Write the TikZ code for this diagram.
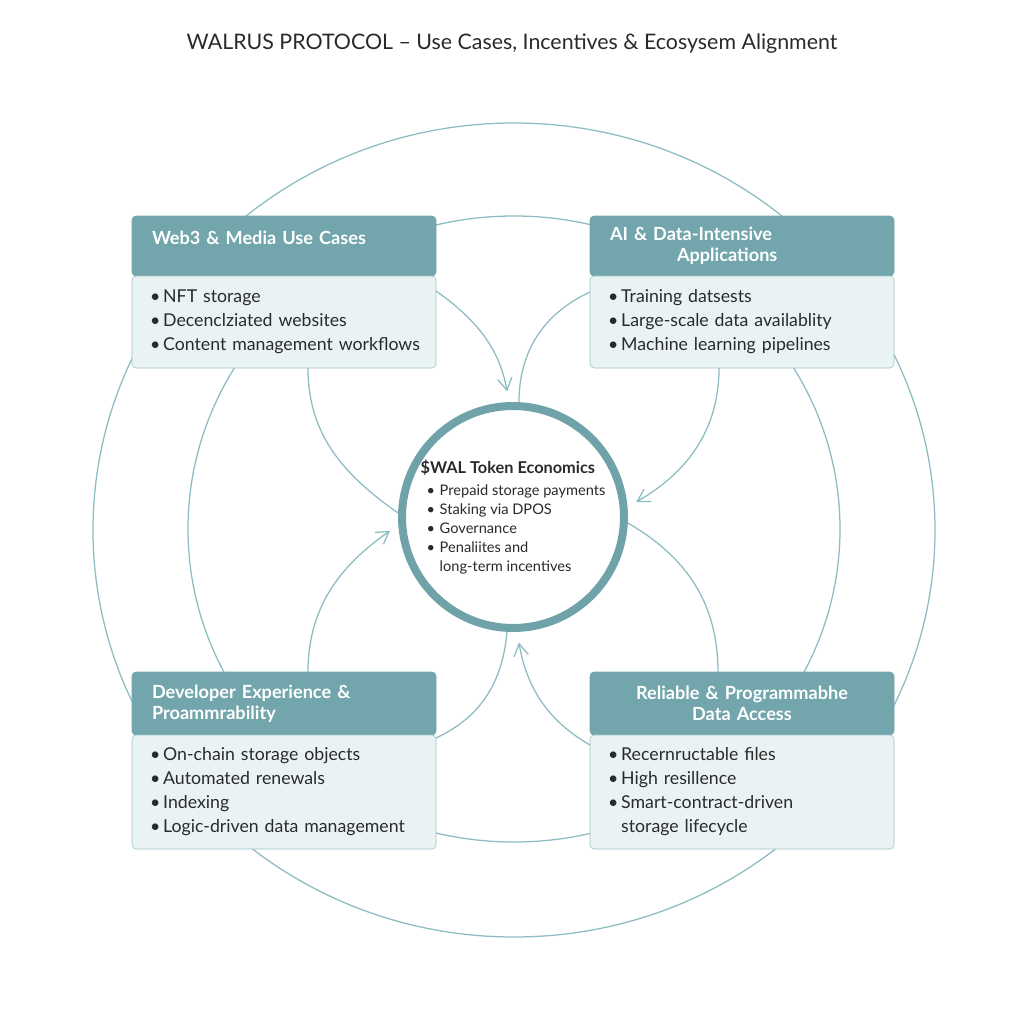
\documentclass[tikz,border=0pt]{standalone}
\usepackage{fontspec}
\setmainfont{Lato}
\usetikzlibrary{positioning,arrows.meta}

\definecolor{headfill}{HTML}{72A6AC}
\definecolor{bodyfill}{HTML}{EAF3F4}
\definecolor{boxline}{HTML}{9DC4C8}
\definecolor{linec}{HTML}{8DBDC3}
\definecolor{ringc}{HTML}{6FA3A9}
\definecolor{txt}{HTML}{2A2A2A}

\newcommand{\bitem}{\hspace*{0.15cm}\makebox[0.33cm][l]{\textbullet}}
\newcommand{\bskip}{\hspace*{0.48cm}}

\begin{document}
\begin{tikzpicture}[
    head/.style={rectangle, fill=headfill, draw=headfill, rounded corners=0.1cm, anchor=north west, minimum width=7.6cm, text width=6.6cm, inner xsep=0.5cm, inner ysep=0pt, outer sep=0pt, align=left, text=white, font=\fontsize{12.9}{14.9}\selectfont\bfseries},
    body/.style={rectangle, fill=bodyfill, draw=boxline, rounded corners=0.1cm, minimum width=7.6cm, text width=7.0cm, inner xsep=0.3cm, inner ysep=0pt, outer sep=0pt, align=left, text=txt, font=\fontsize{12.6}{17.1}\selectfont},
    ring/.style={circle, draw=ringc, line width=0.2cm, fill=white, minimum size=5.55cm, inner sep=0pt, align=left, text=txt, font=\fontsize{10.4}{13.5}\selectfont},
    title/.style={text=txt, font=\fontsize{15.2}{17}\selectfont},
    orbit/.style={line width=0.9pt, draw=linec},
    link/.style={line width=0.9pt, draw=linec},
    flow/.style={-{Straight Barb[length=0.3cm,width=0.36cm]}, line width=0.9pt, draw=linec}
]

\fill[white] (0,0) rectangle (25.6,-25.6);
\useasboundingbox (0,0) rectangle (25.6,-25.6);

\node[title] (title) at (12.8,-1.1) {WALRUS PROTOCOL – Use Cases, Incentives \& Ecosysem Alignment};

% background orbits
\draw[orbit] (12.85,-13.25) ellipse [x radius=10.525cm, y radius=10.175cm];
\draw[orbit] (12.85,-13.225) ellipse [x radius=8.15cm, y radius=7.825cm];

% centre
\node[ring] (token) at (12.825,-12.925) {{\fontsize{11.6}{13.5}\selectfont\bfseries \$WAL Token Economics}\\[2.5pt]
\bitem Prepaid storage payments\\
\bitem Staking via DPOS\\
\bitem Governance\\
\bitem Penaliites and\\
\bskip long-term incentives};

% four boxes
\node[head, minimum height=1.5cm] (web3head) at (3.3,-5.4) {\raisebox{0.2cm}[\height][\depth]{Web3 \& Media Use Cases}};
\node[body, minimum height=2.3cm, below=0pt of web3head] (web3body) {\bitem NFT storage\\ \bitem Decenclziated websites\\ \bitem Content management workflows};

\node[head, minimum height=1.5cm] (aihead) at (14.75,-5.4) {AI \& Data-Intensive\\\hspace*{1.675cm}Applications};
\node[body, minimum height=2.3cm, below=0pt of aihead] (aibody) {\bitem Training datsests\\ \bitem Large-scale data availablity\\ \bitem Machine learning pipelines};

\node[head, minimum height=1.575cm] (devhead) at (3.3,-16.8) {Developer Experience \&\\Proammrability};
\node[body, minimum height=2.85cm, below=0pt of devhead] (devbody) {\bitem On-chain storage objects\\ \bitem Automated renewals\\ \bitem Indexing\\ \bitem Logic-driven data management};

\node[head, minimum height=1.575cm, align=center] (relhead) at (14.75,-16.8) {Reliable \& Programmabhe\\Data Access};
\node[body, minimum height=2.85cm, below=0pt of relhead] (relbody) {\bitem Recernructable files\\ \bitem High resillence\\ \bitem Smart-contract-driven\\ \bskip storage lifecycle};

% pinwheel around the token
\draw[flow, shorten >=0.27cm] ([yshift=-0.375cm]web3body.north east) to[out=-35, in=100] (token.92);
\draw[link] (token.87) to[out=90, in=205] ([yshift=-0.4cm]aibody.north west);
\draw[flow, shorten >=0.25cm] ([xshift=3.225cm]aibody.south west) to[out=-90, in=30] (token.5);
\draw[link] (token.-3) to[out=-30, in=90] ([xshift=3.2cm]relhead.north west);
\draw[flow, shorten >=0.27cm] ([yshift=-0.25cm]relbody.north west) to[out=150, in=-80] (token.-88);
\draw[link] (token.-93) to[out=-95, in=25] ([yshift=-0.075cm]devbody.north east);
\draw[flow, shorten >=0.25cm] ([xshift=4.4cm]devhead.north west) to[out=90, in=215] (token.184);
\draw[link] (token.178) to[out=145, in=-90] ([xshift=4.4cm]web3body.south west);

\end{tikzpicture}
\end{document}
